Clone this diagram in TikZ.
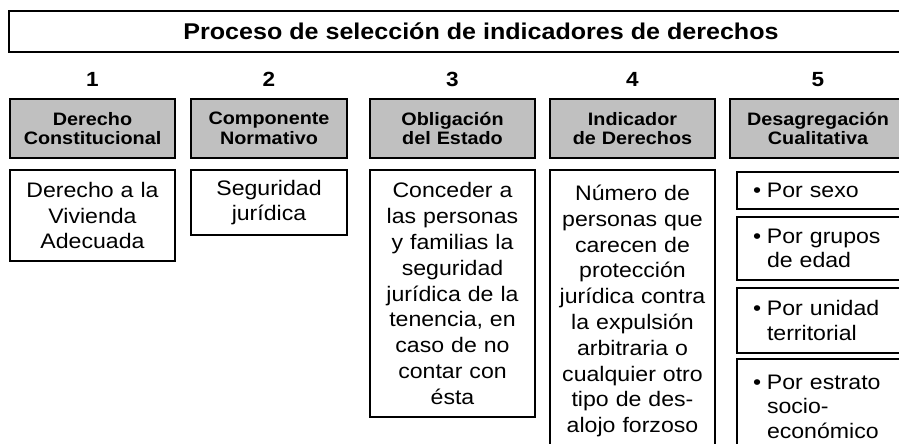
\documentclass[tikz,border=0pt]{standalone}
\usepackage{fontspec}
\setmainfont[FakeStretch=1.1]{Liberation Sans}
\usetikzlibrary{positioning}
\definecolor{headgray}{RGB}{192,192,192}
\newcommand{\bul}{\makebox[14pt][l]{\textbullet}}
\newcommand{\ind}{\hspace*{14pt}}

\begin{document}
\begin{tikzpicture}[x=1pt, y=-1pt,
    frame/.style={draw, line width=1.5pt, outer sep=0pt},
    head/.style={
        frame,
        fill=headgray,
        align=center,
        text width=156pt,
        inner sep=0pt,
        minimum height=59pt,
        font=\bfseries\fontsize{18}{19.8}\selectfont
    },
    cell/.style={
        frame,
        align=center,
        text width=156pt,
        inner sep=0pt,
        font=\fontsize{21}{25.8}\selectfont
    },
    item/.style={
        frame,
        align=left,
        text width=140pt,
        inner xsep=16pt, inner ysep=0pt,
        font=\fontsize{21}{24.5}\selectfont
    },
    num/.style={font=\bfseries\fontsize{20.5}{24}\selectfont}
    ]
    \useasboundingbox (0,0) rectangle (899,444);
    \clip (0,0) rectangle (899,444);

    \node[frame, anchor=north west, minimum width=944pt, minimum height=41pt,
        font=\bfseries\fontsize{22.8}{26}\selectfont] (Title) at (9,11)
        {Proceso de selección de indicadores de derechos};

    % steps
    \node[head, minimum width=165pt] (Head1) at (92.5,128.5) {Derecho\\Constitucional};
    \node[head, minimum width=156pt, right=16pt of Head1] (Head2) {Componente\\Normativo};
    \node[head, minimum width=165pt, right=23pt of Head2] (Head3) {Obligación\\del Estado};
    \node[head, minimum width=165pt, right=15pt of Head3] (Head4) {Indicador\\de Derechos};
    \node[head, minimum width=176pt, right=15pt of Head4] (Head5) {Desagregación\\Cualitativa};

    \foreach \i in {1,...,5}
        \node[num, above=9pt of Head\i] (Num\i) {\i};

    \node[cell, minimum width=165pt, minimum height=91pt, below=12pt of Head1] (Body1)
        {Derecho a la\\Vivienda\\Adecuada};
    \node[cell, minimum width=156pt, minimum height=65pt, below=12pt of Head2] (Body2)
        {Seguridad\\jurídica};
    \node[cell, minimum width=165pt, minimum height=247pt, below=12pt of Head3] (Body3)
        {Conceder a\\las personas\\y familias la\\seguridad\\jurídica de la\\tenencia, en\\caso de no\\contar con\\ésta};
    \node[cell, minimum width=165pt, minimum height=282pt, below=12pt of Head4] (Body4)
        {Número de\\personas que\\carecen de\\protección\\jurídica contra\\la expulsión\\arbitraria o\\cualquier otro\\tipo de des-\\alojo forzoso};

    % disaggregation list
    \node[item, anchor=north west, minimum height=37pt] (Item1) at (737,172)
        {\bul Por sexo};
    \node[item, minimum height=63pt, below=8pt of Item1] (Item2)
        {\bul Por grupos\\\ind de edad};
    \node[item, minimum height=65pt, below=8pt of Item2] (Item3)
        {\bul Por unidad\\\ind territorial};
    \node[item, minimum height=95pt, below=6pt of Item3] (Item4)
        {\bul Por estrato\\\ind socio-\\\ind económico};
\end{tikzpicture}
\end{document}
